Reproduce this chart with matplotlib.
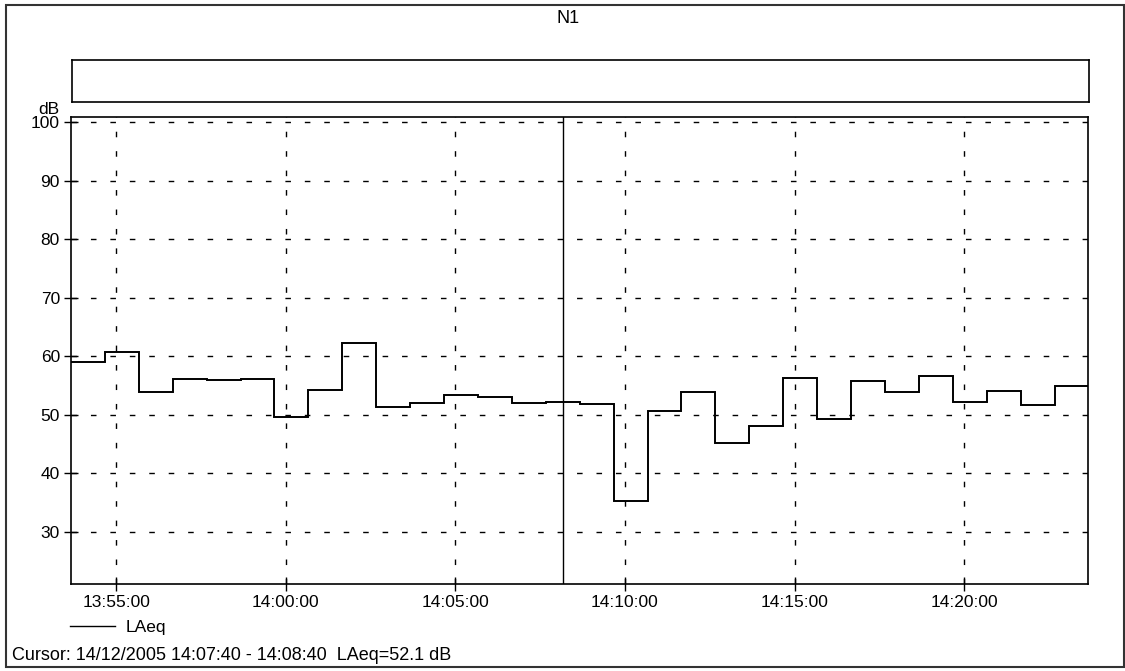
import matplotlib
matplotlib.use("Agg")
import matplotlib.pyplot as plt
import matplotlib.dates as mdates
from matplotlib.lines import Line2D
from matplotlib.patches import Rectangle
import pandas as pd

plt.rcParams['font.family'] = ['Liberation Sans', 'DejaVu Sans']

# ---------- data: 1-minute LAeq values ----------
start = pd.Timestamp("2005-12-14 13:53:40")
laeq = [59.1, 60.7, 53.9, 56.2, 55.95, 56.05, 49.6, 54.2, 62.2, 51.3,
        52.05, 53.4, 53.1, 51.95, 52.1, 51.9, 35.3, 50.6, 53.9, 45.2,
        48.1, 56.3, 49.2, 55.8, 53.9, 56.7, 52.1, 54.0, 51.7, 54.9]
edges = pd.date_range(start, periods=len(laeq) + 1, freq="1min")

cursor_from = pd.Timestamp("2005-12-14 14:07:40")
cursor_to = pd.Timestamp("2005-12-14 14:08:40")
cursor_value = 52.1

xticks = pd.date_range("2005-12-14 13:55:00", "2005-12-14 14:20:00", freq="5min")
yticks = [30, 40, 50, 60, 70, 80, 90, 100]

fig = plt.figure(figsize=(11.25, 6.71), dpi=100)

# outer frame
fig.patches.append(Rectangle((0.005, 0.006), 0.994, 0.987, transform=fig.transFigure,
                             fill=False, edgecolor='#333333', linewidth=1.5))

fig.text(0.505, 0.973, "N1", ha='center', va='center', fontsize=13)

# empty header box above the plot
box = fig.add_axes([0.0636, 0.848, 0.9047, 0.062])
box.set_xticks([])
box.set_yticks([])
for s in box.spines.values():
    s.set_linewidth(1.2)

ax = fig.add_axes([0.0631, 0.1292, 0.9044, 0.6957])
edge_num = mdates.date2num(edges)
ax.stairs(laeq, edge_num, baseline=None, color='black', linewidth=1.4)

# cursor at the middle of the selected interval
mid = cursor_from + (cursor_to - cursor_from) / 2
ax.axvline(mdates.date2num(mid), color='black', linewidth=1.0)

ax.set_xlim(edge_num[0], edge_num[-1])
ax.set_ylim(21, 100.85)
ax.set_xticks(mdates.date2num(xticks))
ax.xaxis.set_major_formatter(mdates.DateFormatter('%H:%M:%S'))
ax.set_yticks(yticks)
ax.tick_params(direction='inout', length=10, width=1, labelsize=12.5, pad=3)
ax.grid(True, color='black', linestyle=(0, (4, 10)), linewidth=1.0)
for s in ax.spines.values():
    s.set_linewidth(1.2)

fig.text(0.043, 1 - 109 / 671, "dB", ha='center', va='center', fontsize=12.5)

# legend below the time axis
handle = Line2D([], [], color='black', linewidth=1.0)
fig.legend([handle], ["LAeq"], loc='center left', bbox_to_anchor=(0.062, 1 - 627 / 671),
           frameon=False, fontsize=12.5, handlelength=2.6, handletextpad=0.6,
           borderpad=0, borderaxespad=0)

fig.text(0.011, 1 - 655 / 671,
         f"Cursor: {cursor_from:%d/%m/%Y %H:%M:%S} - {cursor_to:%H:%M:%S}  LAeq={cursor_value} dB",
         ha='left', va='center', fontsize=13)

fig.savefig("out.png", dpi=100)
